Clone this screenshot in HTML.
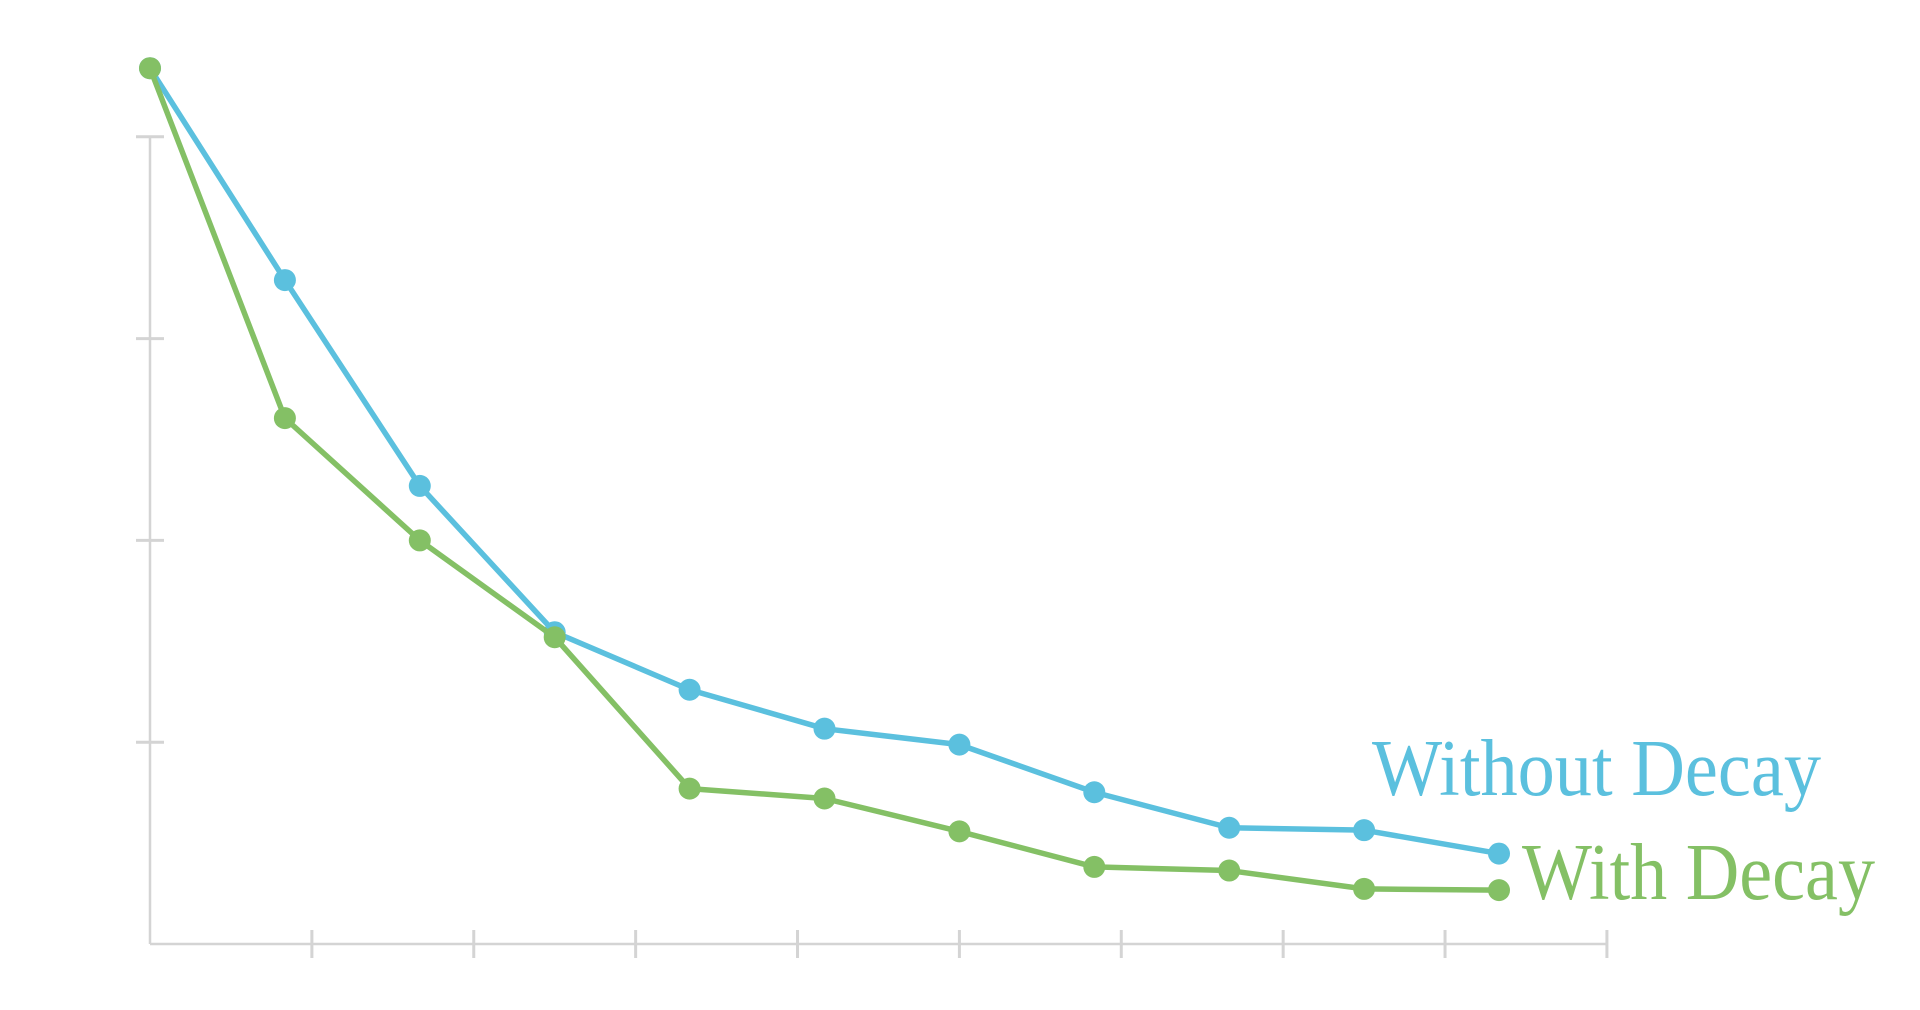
<!DOCTYPE html>
<html><head><meta charset="utf-8"><style>
html,body{margin:0;padding:0;background:#fff;}
svg{display:block;}
</style></head><body>
<svg id="chart" width="1920" height="1010" viewBox="0 0 1920 1010" xmlns="http://www.w3.org/2000/svg"></svg>
<script>
const categories = [0,1,2,3,4,5,6,7,8,9,10];
const withoutDecay = [4.34,3.29,2.27,1.545,1.26,1.067,0.988,0.752,0.576,0.564,0.448];
const withDecay = [4.34,2.606,2.0,1.52,0.77,0.721,0.558,0.382,0.364,0.273,0.267];
const yTicks = [0,1,2,3,4];
const xTicks = [0,1.2,2.4,3.6,4.8,6,7.2,8.4,9.6,10.8];

const NS='http://www.w3.org/2000/svg';
const svg=document.getElementById('chart');
const x0=150, yBase=944, xUnit=134.9, yUnit=201.8;
const sx=v=>x0+v*xUnit;
const sy=v=>yBase-v*yUnit;
function mk(tag,attrs,parent){const e=document.createElementNS(NS,tag);for(const k in attrs)e.setAttribute(k,attrs[k]);(parent||svg).appendChild(e);return e;}

const axes=mk('g',{});


const ya=mk('line',{x1:x0,y1:sy(4),x2:x0,y2:yBase,stroke:'#d4d4d4','stroke-width':2.5},axes);


const xa=mk('line',{x1:x0,y1:yBase,x2:sx(10.8),y2:yBase,stroke:'#d4d4d4','stroke-width':2.5},axes);


yTicks.forEach(t=>{if(t===0)return;
  const l=mk('line',{x1:x0-14,y1:sy(t),x2:x0+14,y2:sy(t),stroke:'#d4d4d4','stroke-width':3},axes);
  
  
});
xTicks.forEach(t=>{if(t===0)return;
  const l=mk('line',{x1:sx(t),y1:yBase-14,x2:sx(t),y2:yBase+14,stroke:'#d4d4d4','stroke-width':3},axes);
  
  
});

function series(vals,color,name){
  const g=mk('g',{});
  
  
  const p=mk('polyline',{points:vals.map((v,i)=>sx(categories[i])+','+sy(v)).join(' '),fill:'none',stroke:color,'stroke-width':5.5,'stroke-linejoin':'round'},g);
  
  
  vals.forEach((v,i)=>{
    const c=mk('circle',{cx:sx(categories[i]),cy:sy(v),r:11,fill:color},g);
    
    
  });
}
series(withoutDecay,'#5bc0de','without-decay-series');
series(withDecay,'#84c065','with-decay-series');

const t1=mk('text',{x:1372,y:795,fill:'#5bc0de','font-family':'Liberation Serif, serif','font-size':80,textLength:449,lengthAdjust:'spacingAndGlyphs'});
t1.textContent='Without Decay';


const t2=mk('text',{x:1522,y:899,fill:'#84c065','font-family':'Liberation Serif, serif','font-size':80,textLength:353,lengthAdjust:'spacingAndGlyphs'});
t2.textContent='With Decay';


</script>
</body></html>
